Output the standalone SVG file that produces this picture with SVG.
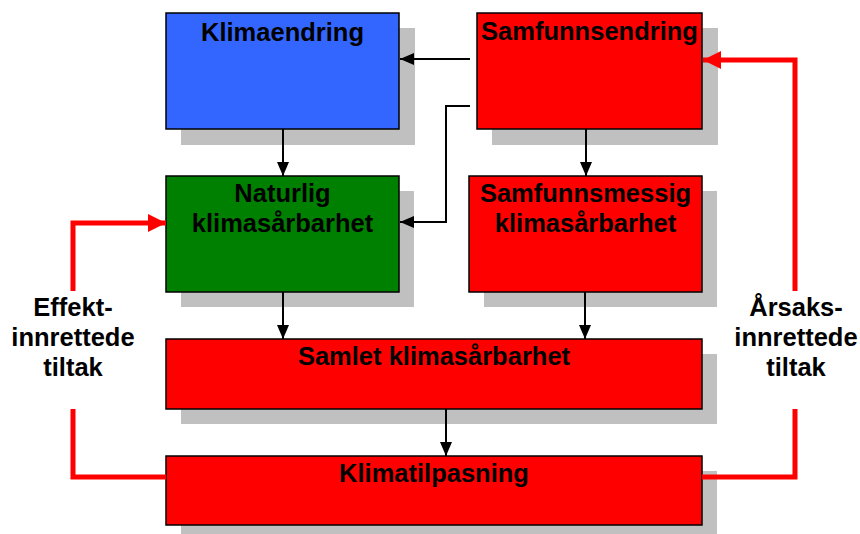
<svg xmlns="http://www.w3.org/2000/svg" width="860" height="534" viewBox="0 0 860 534">
<style>
.sh{fill:#c0c0c0}
.bx{stroke:#000;stroke-width:1.5}
.t{font-family:"Liberation Sans",Arial,sans-serif;font-weight:bold;font-size:25.5px;fill:#000;text-anchor:middle}
.c{fill:none;stroke:#000;stroke-width:2}
.r{fill:none;stroke:#ff0000;stroke-width:5}
</style>
<defs>
<marker id="ab" viewBox="0 0 14 12" markerWidth="14" markerHeight="12" refX="14" refY="6" orient="auto" markerUnits="userSpaceOnUse"><path d="M0,0 L14,6 L0,12 z" fill="#000"/></marker>
<marker id="ar" viewBox="0 0 18 18" markerWidth="18" markerHeight="18" refX="18" refY="9" orient="auto" markerUnits="userSpaceOnUse"><path d="M0,0 L18,9 L0,18 z" fill="#ff0000"/></marker>
</defs>
<rect width="860" height="534" fill="#fff"/>
<g id="klimaendring">
<rect class="sh" x="181" y="28" width="234" height="117"/>
<rect class="bx" x="166" y="13" width="233" height="116" fill="#3366ff"/>
<text class="t" x="282.5" y="41">Klimaendring</text>
</g>
<g id="samfunnsendring">
<rect class="sh" x="492" y="28" width="226" height="117"/>
<rect class="bx" x="477" y="13" width="225" height="116" fill="#ff0000"/>
<text class="t" x="589.5" y="40">Samfunnsendring</text>
</g>
<g id="naturlig">
<rect class="sh" x="181" y="191" width="233" height="116"/>
<rect class="bx" x="166" y="176" width="233" height="116" fill="#008000"/>
<text class="t" x="282.5" y="202">Naturlig</text>
<text class="t" x="282.5" y="232">klimasårbarhet</text>
</g>
<g id="samfunnsmessig">
<rect class="sh" x="484" y="191" width="233" height="116"/>
<rect class="bx" x="469" y="176" width="233" height="116" fill="#ff0000"/>
<text class="t" x="585.5" y="202">Samfunnsmessig</text>
<text class="t" x="585.5" y="232">klimasårbarhet</text>
</g>
<g id="samlet">
<rect class="sh" x="181" y="354" width="536" height="70"/>
<rect class="bx" x="166" y="339" width="536" height="70" fill="#ff0000"/>
<text class="t" x="434" y="365">Samlet klimasårbarhet</text>
</g>
<g id="klimatilpasning">
<rect class="sh" x="181" y="471" width="536" height="70"/>
<rect class="bx" x="166" y="456" width="536" height="69" fill="#ff0000"/>
<text class="t" x="434" y="482">Klimatilpasning</text>
</g>
<g id="effekt">
<text class="t" x="73" y="316">Effekt-</text>
<text class="t" x="73" y="346">innrettede</text>
<text class="t" x="73" y="376">tiltak</text>
</g>
<g id="arsaks">
<text class="t" x="796" y="316">Årsaks-</text>
<text class="t" x="796" y="346">innrettede</text>
<text class="t" x="796" y="376">tiltak</text>
</g>
<g id="connectors">
<path class="c" d="M470,59 H400" marker-end="url(#ab)"/>
<path class="c" d="M470,106 H446 V222 H400" marker-end="url(#ab)"/>
<path class="c" d="M283,129 V176" marker-end="url(#ab)"/>
<path class="c" d="M586,129 V176" marker-end="url(#ab)"/>
<path class="c" d="M283,292 V339" marker-end="url(#ab)"/>
<path class="c" d="M585,292 V339" marker-end="url(#ab)"/>
<path class="c" d="M446,409 V456" marker-end="url(#ab)"/>
<path class="r" d="M166,477 H73 V409"/>
<path class="r" d="M73,291 V223 H166" marker-end="url(#ar)"/>
<path class="r" d="M702,477 H795 V409"/>
<path class="r" d="M795,291 V60 H703" marker-end="url(#ar)"/>
</g>
</svg>
